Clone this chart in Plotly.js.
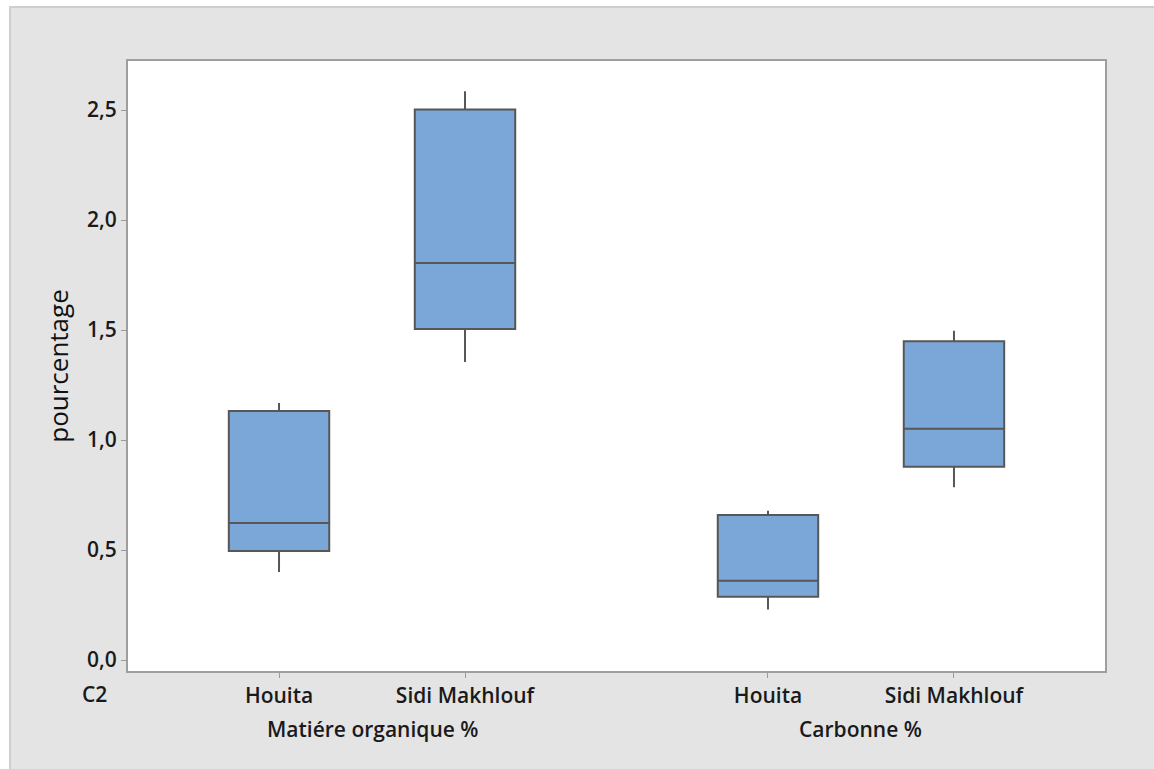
<!DOCTYPE html>
<html>
<head>
<meta charset="utf-8">
<script src="https://cdn.plot.ly/plotly-3.0.1.min.js"></script>
<style>
  html, body { margin: 0; padding: 0; background: #ffffff; }
  #frame { position: absolute; left: 9px; top: 6px; width: 1145px; height: 763px;
           background: #e4e4e4; border-left: 2px solid #cfcfcf; border-top: 2px solid #cfcfcf; box-sizing: border-box; }
  #chart { position: absolute; left: 0; top: 0; width: 1154px; height: 769px; }
</style>
</head>
<body>
<div id="frame"></div>
<div id="chart"></div>
<script>
// ---- data ----
const groups = ["Matiére organique %", "Carbonne %"];
const categories = ["Houita", "Sidi Makhlouf"];
const groupOfBox = [0, 0, 1, 1];
const catOfBox   = [0, 1, 0, 1];
const lowerWhisker = [0.400, 1.355, 0.230, 0.785];
const q1Values     = [0.495, 1.505, 0.288, 0.879];
const medianValues = [0.623, 1.805, 0.360, 1.051];
const q3Values     = [1.132, 2.503, 0.659, 1.449];
const upperWhisker = [1.168, 2.586, 0.679, 1.497];
const yTickVals = [0, 0.5, 1.0, 1.5, 2.0, 2.5];
const panelLabel = "C2";
const yTitle = "pourcentage";

// ---- layout helpers ----
const groupSpacing = 2.629;
const pos = groupOfBox.map((g, i) => 1 + g * groupSpacing + catOfBox[i]);
const tickText = catOfBox.map(c => categories[c]);
const groupCenters = groups.map((g, gi) => 1 + gi * groupSpacing + 0.5);

const fontFam = "'Open Sans', 'Noto Sans', sans-serif";
const lblFont = { family: fontFam, size: 21, color: '#1a1a1a', weight: 600 };

const trace = {
  type: 'box',
  x: pos,
  q1: q1Values,
  median: medianValues,
  q3: q3Values,
  lowerfence: lowerWhisker,
  upperfence: upperWhisker,
  width: 0.54,
  whiskerwidth: 0,
  boxpoints: false,
  fillcolor: '#7ba6d8',
  line: { color: '#575757', width: 2 },
  hoverinfo: 'skip',
  showlegend: false
};

const annotations = groups.map((g, gi) => ({
  text: g, xref: 'x', yref: 'paper', x: groupCenters[gi], y: 0,
  yanchor: 'middle', xanchor: 'center', yshift: -58, showarrow: false,
  font: lblFont
}));
annotations.push({
  text: panelLabel, xref: 'paper', yref: 'paper', x: -0.0348, y: 0,
  yanchor: 'middle', xanchor: 'center', yshift: -23, showarrow: false,
  font: lblFont
});

const layout = {
  width: 1154, height: 769,
  margin: { l: 128, r: 49, t: 61, b: 98 },
  paper_bgcolor: 'rgba(0,0,0,0)',
  plot_bgcolor: '#ffffff',
  separators: ',.',
  showlegend: false,
  xaxis: {
    range: [0.188, 5.441],
    tickmode: 'array', tickvals: pos, ticktext: tickText,
    ticks: 'outside', ticklen: 5, tickwidth: 1, tickcolor: '#9a9a9a',
    showline: true, mirror: true, linecolor: '#9e9e9e', linewidth: 2,
    showgrid: false, zeroline: false,
    tickfont: lblFont
  },
  yaxis: {
    range: [-0.05, 2.723],
    tickmode: 'array', tickvals: yTickVals, tickformat: '.1f',
    ticks: 'outside', ticklen: 5, tickwidth: 1, tickcolor: '#9a9a9a',
    showline: true, mirror: true, linecolor: '#9e9e9e', linewidth: 2,
    showgrid: false, zeroline: false,
    tickfont: lblFont,
    title: { text: yTitle, standoff: 11, font: { family: fontFam, size: 26, color: '#111111', weight: 500 } }
  },
  annotations: annotations
};

Plotly.newPlot('chart', [trace], layout, { displayModeBar: false, staticPlot: true });
</script>
</body>
</html>
